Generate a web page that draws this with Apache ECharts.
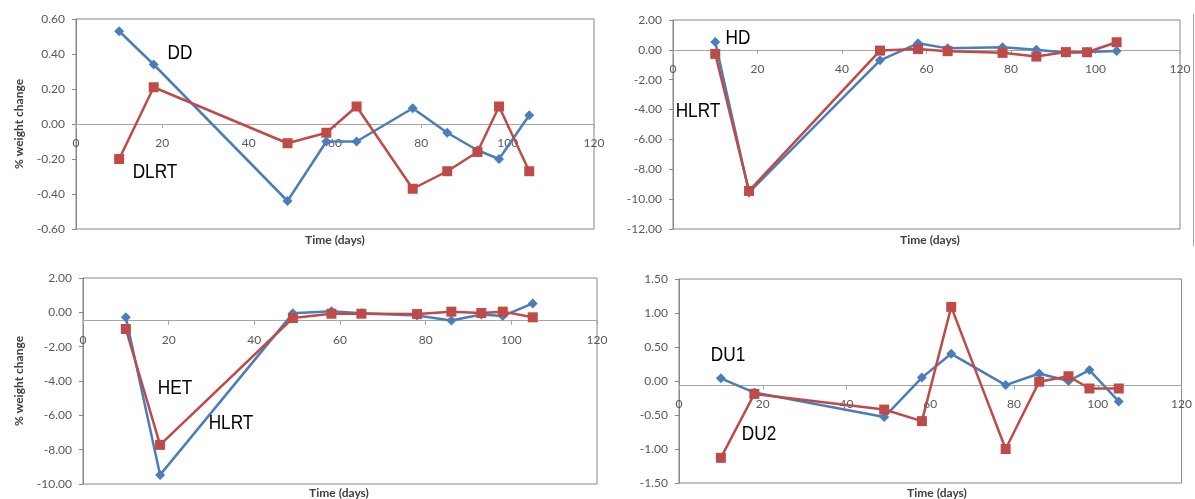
<!DOCTYPE html>
<html>
<head>
<meta charset="utf-8">
<script src="https://cdn.jsdelivr.net/npm/echarts@6/dist/echarts.min.js"></script>
<style>
html,body{margin:0;padding:0;background:#fff;}
#c{width:1195px;height:499px;}
</style>
</head>
<body>
<div id="c"></div>
<script>
// ---- data ----
const days = [10, 18, 49, 58, 65, 78, 86, 93, 98, 105];
const xTicks = [0, 20, 40, 60, 80, 100, 120];

const p1Labels = ['DD', 'DLRT'];
const p1Blue = [0.53, 0.34, -0.44, -0.10, -0.10, 0.09, -0.05, -0.15, -0.20, 0.05];
const p1Red  = [-0.20, 0.21, -0.11, -0.05, 0.10, -0.37, -0.27, -0.16, 0.10, -0.27];
const p1YTicks = [-0.60, -0.40, -0.20, 0.00, 0.20, 0.40, 0.60];

const p2Labels = ['HD', 'HLRT'];
const p2Blue = [0.52, -9.55, -0.70, 0.44, 0.10, 0.18, 0.00, -0.20, -0.15, -0.08];
const p2Red  = [-0.27, -9.45, -0.05, 0.05, -0.09, -0.20, -0.45, -0.15, -0.16, 0.51];
const p2YTicks = [-12, -10, -8, -6, -4, -2, 0, 2];

const p3Labels = ['HET', 'HLRT'];
const p3Blue = [-0.29, -9.47, -0.06, 0.06, -0.06, -0.19, -0.48, -0.13, -0.22, 0.52];
const p3Red  = [-0.97, -7.72, -0.33, -0.08, -0.08, -0.10, 0.04, -0.04, 0.04, -0.29];
const p3YTicks = [-10, -8, -6, -4, -2, 0, 2];

const p4Labels = ['DU1', 'DU2'];
const p4Blue = [0.04, -0.17, -0.53, 0.05, 0.40, -0.06, 0.11, 0.00, 0.16, -0.30];
const p4Red  = [-1.13, -0.19, -0.42, -0.59, 1.09, -1.00, -0.01, 0.07, -0.11, -0.11];
const p4YTicks = [-1.5, -1.0, -0.5, 0.0, 0.5, 1.0, 1.5];

const xName = 'Time (days)';
const yName = '% weight change';

// ---- styling / layout ----
const BLUE = '#4A7EBB', RED = '#BE4B48';
const AX = '#878787';
const tickFont = {fontFamily: 'Lato, "Open Sans", sans-serif', fontSize: 12, color: '#595959'};
const annFont = '"Liberation Sans", Arial, sans-serif';

const grids = [
  {left: 76, top: 19, width: 518, height: 210},
  {left: 673, top: 20, width: 507, height: 209},
  {left: 83, top: 278, width: 514, height: 206},
  {left: 679, top: 279, width: 508, height: 204}
];
const panels = [
  {blue: p1Blue, red: p1Red, ticks: p1YTicks, dec: 2, yname: true, gap: 51},
  {blue: p2Blue, red: p2Red, ticks: p2YTicks, dec: 2, yname: false, gap: 0},
  {blue: p3Blue, red: p3Red, ticks: p3YTicks, dec: 2, yname: true, gap: 58},
  {blue: p4Blue, red: p4Red, ticks: p4YTicks, dec: 2, yname: false, gap: 0}
];

const option = {
  animation: false,
  backgroundColor: '#fff',
  grid: grids.map(g => Object.assign({show: true, borderColor: AX, borderWidth: 1, backgroundColor: 'transparent'}, g)),
  xAxis: panels.map((p, i) => ({
    type: 'value', gridIndex: i, position: 'bottom', offset: 0,
    min: xTicks[0], max: xTicks[xTicks.length - 1], interval: xTicks[1] - xTicks[0],
    axisLine: {show: true, onZero: false, lineStyle: {color: '#A6A6A6', width: 1}},
    axisTick: {show: true, length: 4, lineStyle: {color: '#A6A6A6'}},
    axisLabel: Object.assign({margin: 13, showMaxLabel: true, showMinLabel: true}, tickFont),
    splitLine: {show: false}
  })),
  yAxis: panels.map((p, i) => ({
    type: 'value', gridIndex: i,
    min: p.ticks[0], max: p.ticks[p.ticks.length - 1], interval: p.ticks[1] - p.ticks[0],
    axisLine: {show: true, onZero: false, lineStyle: {color: AX, width: 1}},
    axisTick: {show: true, length: 4, lineStyle: {color: AX}},
    axisLabel: Object.assign({margin: 11, formatter: v => (Math.abs(v) < 1e-9 ? 0 : v).toFixed(p.dec)}, tickFont),
    splitLine: {show: false},
    name: p.yname ? yName : '',
    nameLocation: 'middle', nameGap: p.gap, nameRotate: 90,
    nameTextStyle: {fontFamily: 'Lato, "Open Sans", sans-serif', fontSize: 12, fontWeight: 'bold', color: '#404040'}
  })),
  series: []
};

panels.forEach((p, i) => {
  option.series.push({
    type: 'line', xAxisIndex: i, yAxisIndex: i,
    data: days.map((d, k) => [d, p.blue[k]]),
    symbol: 'diamond', symbolSize: 10,
    lineStyle: {color: BLUE, width: 2.5},
    itemStyle: {color: BLUE},
    z: 2
  });
  option.series.push({
    type: 'line', xAxisIndex: i, yAxisIndex: i,
    data: days.map((d, k) => [d, p.red[k]]),
    symbol: 'rect', symbolSize: 10,
    lineStyle: {color: RED, width: 2.5},
    itemStyle: {color: RED},
    z: 3
  });
});

function txt(x, y, s, size, bold, font, color, sx) {
  return {type: 'text', x: x, y: y, z: 10, scaleX: sx || 1,
    style: {text: s, fill: color || '#000', font: (bold ? 'bold ' : '') + size + 'px ' + font,
      textAlign: 'center', textVerticalAlign: 'middle'}};
}
const axFont = 'Lato, "Open Sans", sans-serif';
const N = 0.82;
option.graphic = [
  txt(180, 53, p1Labels[0], 21, false, annFont, '#000', N),
  txt(155, 172, p1Labels[1], 21, false, annFont, '#000', N),
  txt(738, 38, p2Labels[0], 21, false, annFont, '#000', N),
  txt(698, 111, p2Labels[1], 21, false, annFont, '#000', N),
  txt(175, 388, p3Labels[0], 21, false, annFont, '#000', N),
  txt(231, 423, p3Labels[1], 21, false, annFont, '#000', N),
  txt(728, 355, p4Labels[0], 21, false, annFont, '#000', N),
  txt(759, 434, p4Labels[1], 21, false, annFont, '#000', N),
  txt(335, 240, xName, 12, true, axFont, '#404040'),
  txt(930, 240, xName, 12, true, axFont, '#404040'),
  txt(339, 493, xName, 12, true, axFont, '#404040'),
  txt(937, 493, xName, 12, true, axFont, '#404040'),
  {type: 'line', z: 10, shape: {x1: 1193.5, y1: 14, x2: 1193.5, y2: 246}, style: {stroke: '#A6A6A6', lineWidth: 1}}
];

const chart = echarts.init(document.getElementById('c'), null, {renderer: 'canvas'});
chart.setOption(option);

// place each x axis on the y = 0 line, using the library's own y scale
const offsets = panels.map((p, i) => {
  const zeroPx = chart.convertToPixel({yAxisIndex: i}, 0);
  const bottomPx = chart.convertToPixel({yAxisIndex: i}, p.ticks[0]);
  return -(bottomPx - zeroPx);
});
chart.setOption({xAxis: offsets.map(o => ({offset: o}))});
</script>
</body>
</html>
